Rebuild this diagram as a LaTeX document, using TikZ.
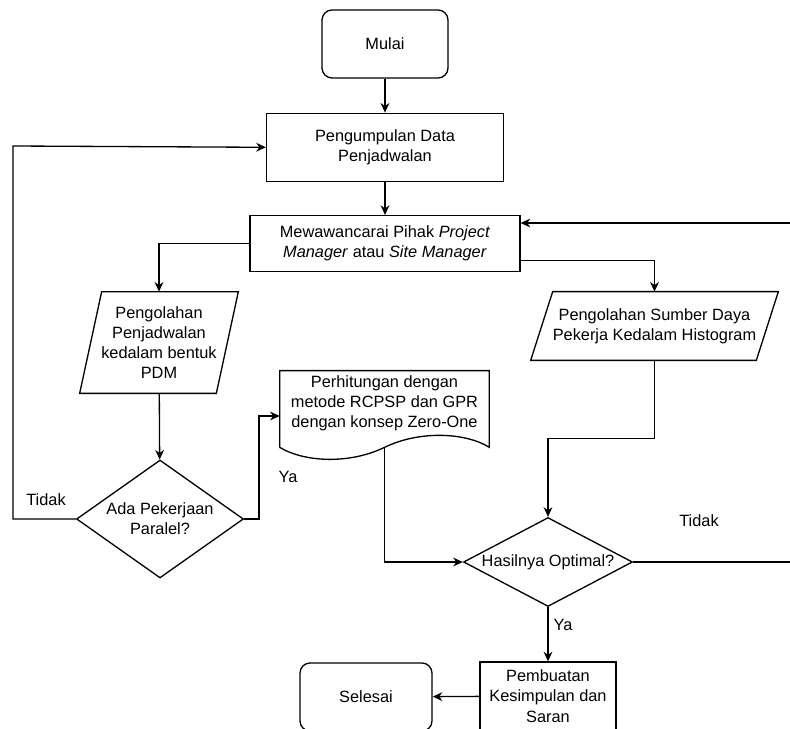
\documentclass[tikz,border=0pt]{standalone}
\usepackage{fontspec}
\setmainfont{Liberation Sans}
\usetikzlibrary{arrows.meta,positioning,calc,shapes.geometric}

\begin{document}
\begin{tikzpicture}[x=0.02cm, y=-0.02cm,
  every node/.style={font=\fontsize{9.3}{11.5}\selectfont},
  terminal/.style={draw, rounded corners=0.2cm, minimum width=2.52cm, minimum height=1.36cm, align=center, line width=0.75pt},
  process/.style={draw, minimum height=1.36cm, inner sep=1pt, align=center, line width=0.75pt},
  iobox/.style={align=center, inner sep=0pt},
  decision/.style={draw, diamond, inner sep=0pt, align=center, line width=0.75pt},
  shapeline/.style={line width=0.75pt, line join=miter},
  arr/.style={-{Stealth[length=5.5pt,width=5pt]}, line width=0.75pt},
  lbl/.style={inner sep=0pt}
]
  \useasboundingbox (0,0) rectangle (790,729);

  \node[terminal] (mulai) at (385,44) {Mulai};
  \node[process, minimum width=4.74cm, below=0.68cm of mulai] (kumpul) {Pengumpulan Data\\Penjadwalan};
  \node[process, minimum width=5.4cm, minimum height=1.12cm, below=0.66cm of kumpul] (wawancara) {Mewawancarai Pihak \textit{Project}\\\textit{Manager} atau \textit{Site Manager}};
  \node[iobox, minimum width=3.16cm, minimum height=2.02cm] (pdm) at (159,342.5) {Pengolahan\\Penjadwalan\\kedalam bentuk\\PDM};
  \node[iobox, minimum width=4.94cm, minimum height=1.36cm] (histo) at (654.5,326) {Pengolahan Sumber Daya\\Pekerja Kedalam Histogram};
  \node[decision, aspect=1.415, minimum width=3.34cm, minimum height=2.36cm] (paralel) at (160,519) {Ada Pekerjaan\\Paralel?};
  \node[iobox, minimum width=4.18cm, minimum height=1.52cm] (doc) at (384.5,409) {};
  \node[iobox] (doctext) at (384.5,403) {Perhitungan dengan\\metode RCPSP dan GPR\\dengan konsep Zero-One};
  \node[decision, aspect=1.9, minimum width=3.38cm, minimum height=1.78cm] (optimal) at (548,562) {Hasilnya Optimal?};
  \node[process, minimum width=2.72cm] (simpulan) at (548,696) {Pembuatan\\Kesimpulan dan\\Saran};
  \node[terminal, minimum width=2.64cm] (selesai) at (366,697) {Selesai};

  % input/output and document outlines
  \draw[shapeline] ($(pdm.north west)+(22,0)$) -- (pdm.north east) -- ($(pdm.south east)-(22,0)$) -- (pdm.south west) -- cycle;
  \draw[shapeline] ($(histo.north west)+(22,0)$) -- (histo.north east) -- ($(histo.south east)-(22,0)$) -- (histo.south west) -- cycle;
  \draw[shapeline] (doc.south west) -- (doc.north west) -- (doc.north east) -- (doc.south east)
    .. controls +(-24,-15) and +(35,-17) .. (doc.south)
    .. controls +(-35,17) and +(25,15) .. (doc.south west);

  \coordinate (loopL) at (13,146);
  \coordinate (loopR) at (800,223);

  \draw[arr] (mulai) -- (kumpul);
  \draw[arr] (kumpul) -- (wawancara);
  \draw[arr] (wawancara.west) -| (pdm.north);
  \draw[arr] ([yshift=-0.34cm]wawancara.east) -| (histo.north);
  \draw[arr] (pdm) -- (paralel);
  \draw[arr] (paralel.west) -| (loopL) -- (kumpul.west);
  \draw[arr] (paralel.east) -- ++(15,0) |- ([yshift=-0.14cm]doc.west);
  \draw[arr] (doc.south) |- (optimal.west);
  \draw[arr] (histo.south) -- ++(0,78) -| (optimal.north);
  \draw[arr] (optimal) -- (simpulan);
  \draw[arr] (optimal.east) -| (loopR) -- (loopR -| wawancara.east);
  \draw[arr] (simpulan) -- (selesai);

  \node[lbl] (tidakkiri) at (46,500) {Tidak};
  \node[lbl] (yakiri) at (288,477) {Ya};
  \node[lbl] (tidakkanan) at (699,521) {Tidak};
  \node[lbl] (yabawah) at (563,625) {Ya};
\end{tikzpicture}
\end{document}
